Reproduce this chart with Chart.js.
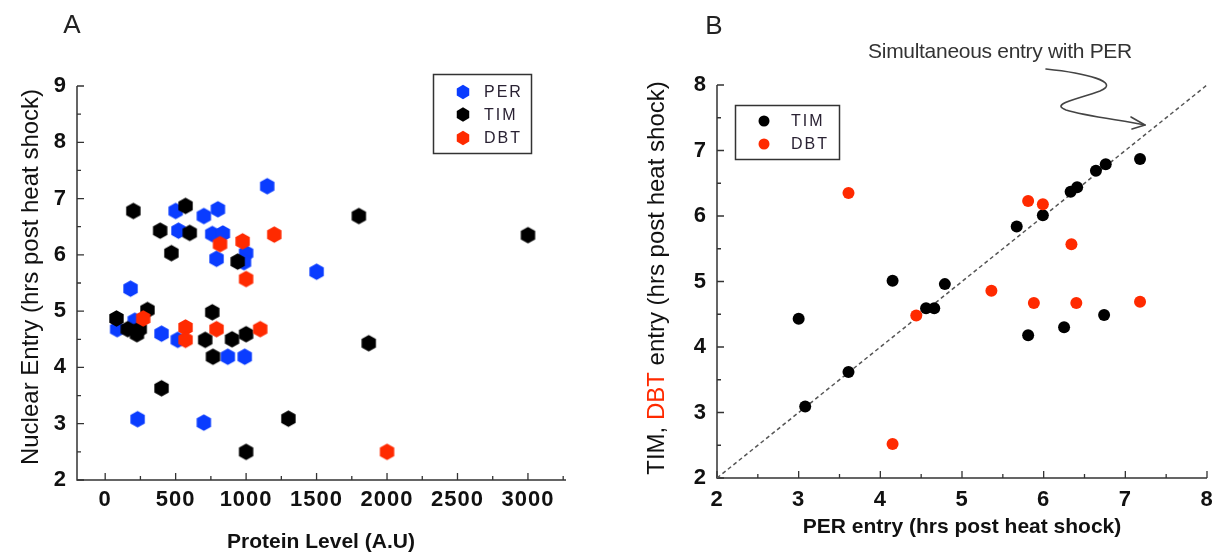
<!DOCTYPE html>
<html><head><meta charset="utf-8">
<script src="https://cdn.jsdelivr.net/npm/chart.js@4.4.1/dist/chart.umd.min.js"></script>
<style>
html,body{margin:0;padding:0;background:#fff;}
#wrap{position:relative;width:1219px;height:560px;overflow:hidden;background:#fff;}
canvas{position:absolute;top:0;}
#ca{left:0;} #cb{left:609px;}
</style></head><body>
<div id="wrap"><canvas id="ca" width="609" height="560"></canvas><canvas id="cb" width="610" height="560"></canvas></div>
<script>
// ---------- Panel A data ----------
const seriesNamesA = ['PER', 'TIM', 'DBT'];
const perProtein = [1150, 500, 700, 800, 520, 760, 835, 1000, 790, 985, 1500, 180, 210, 85, 400, 515, 870, 990, 230, 700];
const perEntry   = [7.22, 6.78, 6.69, 6.81, 6.43, 6.37, 6.38, 6.03, 5.93, 5.87, 5.70, 5.40, 4.83, 4.68, 4.60, 4.49, 4.19, 4.19, 3.08, 3.02];
const timProtein = [200, 570, 390, 600, 470, 940, 300, 80, 160, 245, 225, 760, 710, 900, 1000, 765, 400, 1300, 1000, 1800, 3000, 1870];
const timEntry   = [6.78, 6.87, 6.43, 6.39, 6.03, 5.88, 5.02, 4.87, 4.68, 4.68, 4.59, 4.98, 4.49, 4.50, 4.59, 4.19, 3.63, 3.09, 2.50, 6.69, 6.35, 4.43];
const dbtProtein = [815, 975, 1200, 1000, 270, 570, 570, 790, 1100, 2000];
const dbtEntry   = [6.19, 6.24, 6.36, 5.57, 4.87, 4.71, 4.49, 4.68, 4.68, 2.50];
const xTicksA = [0, 500, 1000, 1500, 2000, 2500, 3000];
const xMinorA = [250, 750, 1250, 1750, 2250, 2750, 3250];
const yTicksA = [2, 3, 4, 5, 6, 7, 8, 9];
const yMinorA = [2.5, 3.5, 4.5, 5.5, 6.5, 7.5, 8.5];

// ---------- Panel B data ----------
const seriesNamesB = ['TIM', 'DBT'];
const timPerEntry = [3.00, 3.08, 3.61, 4.15, 4.56, 4.66, 4.79, 5.67, 5.99, 6.33, 6.41, 6.64, 6.76, 7.18, 6.74, 6.25, 5.81];
const timOwnEntry = [4.43, 3.09, 3.62, 5.01, 4.59, 4.59, 4.96, 5.84, 6.01, 6.37, 6.44, 6.69, 6.79, 6.87, 4.49, 4.30, 4.18];
const dbtPerEntry = [3.61, 4.44, 4.15, 5.81, 5.99, 6.34, 5.36, 5.88, 6.40, 7.18];
const dbtOwnEntry = [6.35, 4.48, 2.52, 6.23, 6.18, 5.57, 4.86, 4.67, 4.67, 4.69];
const diagonal = [2, 8];
const ticksB = [2, 3, 4, 5, 6, 7, 8];
const minorB = [2.5, 3.5, 4.5, 5.5, 6.5, 7.5];

const BLUE = '#0a3cff', BLACK = '#000000', RED = '#ff2a00';
const FONT = '"Liberation Sans", Arial, sans-serif';

function pts(xs, ys) { return xs.map((x, i) => ({x: x, y: ys[i]})); }

function hexPath(ctx, cx, cy, r) {
  ctx.beginPath();
  for (let k = 0; k < 6; k++) {
    const ang = -Math.PI / 2 + k * Math.PI / 3;
    const px = cx + r * Math.cos(ang), py = cy + r * Math.sin(ang);
    if (k === 0) ctx.moveTo(px, py); else ctx.lineTo(px, py);
  }
  ctx.closePath();
}
function hexImage(color, r) {
  const c = document.createElement('canvas');
  const s = Math.ceil(2 * r + 2);
  c.width = s; c.height = s;
  const g = c.getContext('2d');
  g.fillStyle = color;
  hexPath(g, s / 2, s / 2, r);
  g.fill();
  return c;
}

function drawAxes(chart, o) {
  const ctx = chart.ctx, xs = chart.scales.x, ys = chart.scales.y, a = chart.chartArea;
  ctx.save();
  ctx.strokeStyle = '#333'; ctx.lineWidth = 1.5;
  ctx.beginPath();
  ctx.moveTo(a.left, a.top); ctx.lineTo(a.left, a.bottom); ctx.lineTo(a.right, a.bottom);
  ctx.stroke();
  ctx.lineWidth = 1.3;
  ctx.beginPath();
  o.xMajor.forEach(v => { const p = xs.getPixelForValue(v); ctx.moveTo(p, a.bottom); ctx.lineTo(p, a.bottom - 7); });
  o.xMinor.forEach(v => { const p = xs.getPixelForValue(v); ctx.moveTo(p, a.bottom); ctx.lineTo(p, a.bottom - 4); });
  o.yMajor.forEach(v => { const p = ys.getPixelForValue(v); ctx.moveTo(a.left, p); ctx.lineTo(a.left + 7, p); });
  o.yMinor.forEach(v => { const p = ys.getPixelForValue(v); ctx.moveTo(a.left, p); ctx.lineTo(a.left + 4, p); });
  ctx.stroke();
  ctx.fillStyle = '#111';
  ctx.font = 'bold 22px ' + FONT;
  ctx.letterSpacing = '1px';
  ctx.textAlign = 'center'; ctx.textBaseline = 'middle';
  o.xMajor.forEach(v => ctx.fillText(String(v), xs.getPixelForValue(v), a.bottom + o.xLabelOff));
  ctx.textAlign = 'right';
  o.yMajor.forEach(v => ctx.fillText(String(v), a.left - 10, ys.getPixelForValue(v)));
  ctx.restore();
}

function drawText(ctx, txt, x, y, font, color, align, spacing) {
  ctx.save();
  ctx.font = font; ctx.fillStyle = color; ctx.textAlign = align || 'center'; ctx.textBaseline = 'middle';
  ctx.letterSpacing = spacing || '0px';
  ctx.fillText(txt, x, y);
  ctx.restore();
}

// ---------- Chart A ----------
const axesA = {
  id: 'axesA',
  beforeDatasetsDraw(chart) {
    drawAxes(chart, {xMajor: xTicksA, xMinor: xMinorA, yMajor: yTicksA, yMinor: yMinorA, xLabelOff: 20});
  },
  afterDraw(chart) {
    const ctx = chart.ctx;
    drawText(ctx, 'A', 72, 26, '26px ' + FONT, '#222');
    drawText(ctx, 'Protein Level (A.U)', 321, 542, 'bold 21px ' + FONT, '#111');
    ctx.save();
    ctx.translate(31, 277); ctx.rotate(-Math.PI / 2);
    drawText(ctx, 'Nuclear Entry (hrs post heat shock)', 0, 0, '24px ' + FONT, '#111');
    ctx.restore();
    // legend
    ctx.save();
    ctx.strokeStyle = '#333'; ctx.lineWidth = 1.5;
    ctx.strokeRect(433.5, 74.5, 98, 79);
    const cols = [BLUE, BLACK, RED], ys = [92, 114.5, 138];
    seriesNamesA.forEach((n, i) => {
      ctx.fillStyle = cols[i]; hexPath(ctx, 463, ys[i], 7.2); ctx.fill();
      drawText(ctx, n, 484, ys[i] + 1, '16px ' + FONT, '#2a2233', 'left', '2px');
    });
    ctx.restore();
  }
};

new Chart(document.getElementById('ca'), {
  type: 'scatter',
  data: {
    datasets: [
      {label: seriesNamesA[0], data: pts(perProtein, perEntry), pointStyle: hexImage(BLUE, 8.3), backgroundColor: BLUE, order: 3},
      {label: seriesNamesA[1], data: pts(timProtein, timEntry), pointStyle: hexImage(BLACK, 8.3), backgroundColor: BLACK, order: 2},
      {label: seriesNamesA[2], data: pts(dbtProtein, dbtEntry), pointStyle: hexImage(RED, 8.3), backgroundColor: RED, order: 1}
    ]
  },
  options: {
    responsive: false, animation: false, devicePixelRatio: 1,
    layout: {padding: {left: 0, top: 86, right: 43, bottom: 0}},
    plugins: {legend: {display: false}, tooltip: {enabled: false}},
    scales: {
      x: {type: 'linear', min: -200, max: 3270, grid: {display: false}, border: {display: false}, ticks: {display: false},
          afterFit(s) { s.height = 80; }},
      y: {type: 'linear', min: 2, max: 9, grid: {display: false}, border: {display: false}, ticks: {display: false},
          afterFit(s) { s.width = 77; }}
    }
  },
  plugins: [axesA]
});

// ---------- Chart B ----------
const OFF = 609;
const axesB = {
  id: 'axesB',
  beforeDatasetsDraw(chart) {
    drawAxes(chart, {xMajor: ticksB, xMinor: minorB, yMajor: ticksB, yMinor: minorB, xLabelOff: 22});
  },
  afterDraw(chart) {
    const ctx = chart.ctx;
    drawText(ctx, 'B', 714 - OFF, 27, '26px ' + FONT, '#222');
    drawText(ctx, 'PER entry (hrs post heat shock)', 962 - OFF, 527, 'bold 21px ' + FONT, '#111');
    drawText(ctx, 'Simultaneous entry with PER', 1000 - OFF, 52, '21px ' + FONT, '#333', 'center', '-0.3px');
    // rotated y title with coloured DBT
    ctx.save();
    ctx.translate(657 - OFF, 278); ctx.rotate(-Math.PI / 2);
    ctx.font = '24px ' + FONT; ctx.textBaseline = 'middle'; ctx.textAlign = 'left';
    const parts = [['TIM, ', '#111'], ['DBT', RED], [' entry (hrs post heat shock)', '#111']];
    const total = parts.reduce((s, p) => s + ctx.measureText(p[0]).width, 0);
    let cx = -total / 2;
    parts.forEach(p => { ctx.fillStyle = p[1]; ctx.fillText(p[0], cx, 0); cx += ctx.measureText(p[0]).width; });
    ctx.restore();
    // arrow
    ctx.save();
    ctx.strokeStyle = '#444'; ctx.lineWidth = 1.6; ctx.lineCap = 'round'; ctx.lineJoin = 'round';
    ctx.translate(-OFF, 0);
    ctx.beginPath();
    ctx.moveTo(1046, 69);
    ctx.bezierCurveTo(1085, 73, 1122, 82, 1100, 91);
    ctx.bezierCurveTo(1075, 100, 1050, 104, 1066, 110);
    ctx.bezierCurveTo(1085, 116, 1120, 120, 1145, 125);
    ctx.stroke();
    ctx.beginPath();
    ctx.moveTo(1131, 117); ctx.lineTo(1145, 125); ctx.lineTo(1132, 129);
    ctx.stroke();
    ctx.restore();
    // legend
    ctx.save();
    ctx.translate(-OFF, 0);
    ctx.strokeStyle = '#333'; ctx.lineWidth = 1.5;
    ctx.strokeRect(735.5, 105.5, 104, 54);
    const cols = [BLACK, RED], ys = [121, 144];
    seriesNamesB.forEach((n, i) => {
      ctx.fillStyle = cols[i]; ctx.beginPath(); ctx.arc(764, ys[i], 5.5, 0, Math.PI * 2); ctx.fill();
      drawText(ctx, n, 791, ys[i] + 1, '16px ' + FONT, '#2a2233', 'left', '2px');
    });
    ctx.restore();
  }
};

new Chart(document.getElementById('cb'), {
  type: 'scatter',
  data: {
    datasets: [
      {type: 'line', label: 'diag', data: pts(diagonal, diagonal), borderColor: '#555', borderWidth: 1.5,
       borderDash: [4, 3], pointRadius: 0, fill: false, order: 10},
      {label: seriesNamesB[0], data: pts(timPerEntry, timOwnEntry), pointStyle: 'circle', pointRadius: 6,
       backgroundColor: BLACK, borderWidth: 0, order: 2},
      {label: seriesNamesB[1], data: pts(dbtPerEntry, dbtOwnEntry), pointStyle: 'circle', pointRadius: 6,
       backgroundColor: RED, borderWidth: 0, order: 1}
    ]
  },
  options: {
    responsive: false, animation: false, devicePixelRatio: 1,
    layout: {padding: {left: 0, top: 85, right: 12, bottom: 0}},
    plugins: {legend: {display: false}, tooltip: {enabled: false}},
    scales: {
      x: {type: 'linear', min: 2, max: 8, grid: {display: false}, border: {display: false}, ticks: {display: false},
          afterFit(s) { s.height = 82; }},
      y: {type: 'linear', min: 2, max: 8, grid: {display: false}, border: {display: false}, ticks: {display: false},
          afterFit(s) { s.width = 108; }}
    }
  },
  plugins: [axesB]
});
</script>
</body></html>
